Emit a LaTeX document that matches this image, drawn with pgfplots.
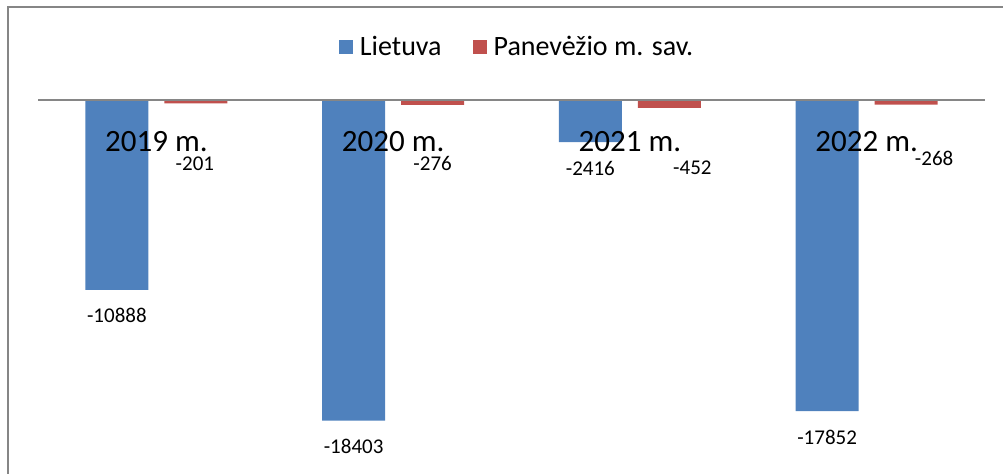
\documentclass[border=0pt]{standalone}
\usepackage{pgfplots}
\pgfplotsset{compat=1.18}
\usepackage{fontspec}
\setmainfont{Carlito}
\definecolor{lblue}{HTML}{4F81BD}
\definecolor{lred}{HTML}{C0504D}
\definecolor{framegray}{HTML}{868686}
\begin{document}
\begin{tikzpicture}
\useasboundingbox (0,0) rectangle (752.25pt,355.5pt);
\draw[framegray, line width=1.5pt] (6pt,0pt) -- (6pt,350.5pt);
\draw[framegray, line width=1pt] (5.25pt,350.25pt) -- (753pt,350.25pt);
\begin{axis}[
  at={(28.5pt,6pt)}, anchor=south west,
  scale only axis, width=710.25pt, height=274.5pt,
  xmin=-0.5, xmax=3.5, ymin=-21000, ymax=0,
  axis x line*=top, axis y line=none,
  x axis line style={framegray, line width=1.5pt},
  xtick={0,1,2,3}, xticklabels={2019 m.,2020 m.,2021 m.,2022 m.},
  major tick length=0pt,
  x tick label style={font=\fontsize{23.25}{26}\selectfont, anchor=center, yshift=-31.5pt},
  ybar=12pt, bar width=47.25pt,
  axis on top,
  legend style={at={(0.5048,1.1448)}, anchor=center, draw=none, fill=none,
    legend columns=2, font=\fontsize{21}{24}\selectfont,
    nodes={inner sep=0pt},
    /tikz/every odd column/.append style={column sep=5.25pt},
    /tikz/every even column/.append style={column sep=23.25pt}},
  nodes near coords={\pgfmathprintnumber[1000 sep={},assume math mode=true]{\pgfplotspointmeta}},
  nodes near coords style={font=\fontsize{15.75}{18}\selectfont, text=black},
  clip=false,
]
\addplot[fill=lblue, draw=none,
  legend image code/.code={\fill[lblue] (0pt,-5.25pt) rectangle (10.5pt,5.25pt);},
  every node near coord/.append style={anchor=center, yshift=-19.5pt}] table {
x y
0 -10888
1 -18403
2 -2416
3 -17852
};
\addlegendentry{Lietuva}
\addplot[fill=lred, draw=none,
  legend image code/.code={\fill[lred] (0pt,-5.25pt) rectangle (10.5pt,5.25pt);},
  visualization depends on={value \thisrow{dx}\as\dx},
  visualization depends on={value \thisrow{dy}\as\dy},
  every node near coord/.append style={anchor=center, xshift=\dx pt, yshift=\dy pt}] table {
x y dx dy
0 -201 -0.75 -45.4
1 -276 0 -44.3
2 -452 17.25 -45
3 -268 21 -40.5
};
\addlegendentry{Panevėžio m. sav.}
\end{axis}
\end{tikzpicture}
\end{document}
